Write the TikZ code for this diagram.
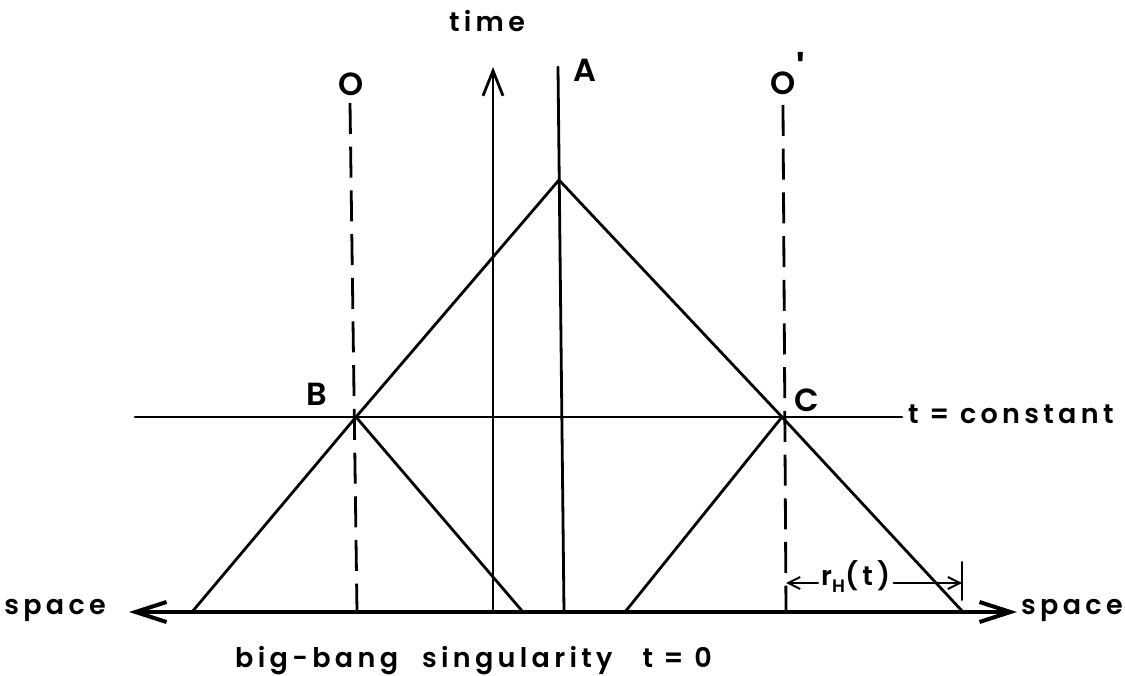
\documentclass[tikz,border=0pt]{standalone}
\usepackage{fontspec}
\setmainfont{Poppins}[LetterSpace=16, BoldFont={Poppins SemiBold}]
\usetikzlibrary{arrows.meta}
\begin{document}
\begin{tikzpicture}[x=1pt,y=-1pt,
  line cap=round,
  thinline/.style={line width=2.8pt},
  axisline/.style={line width=4pt},
  dashline/.style={line width=2.8pt, line cap=butt, dash pattern=on 31pt off 12.7pt},
  bigbarb/.style={-{Straight Barb[length=25pt,width=20pt]}},
  smallbarb/.style={-{Straight Barb[length=12pt,width=12pt]}},
  lbl/.style={inner sep=0pt, font=\fontsize{27}{30}\selectfont\bfseries},
  caplbl/.style={inner sep=0pt, font=\fontsize{32}{36}\selectfont\bfseries}]
\useasboundingbox (0,0) rectangle (1125,676);
% key points
\coordinate (axL) at (129,612);
\coordinate (axR) at (1017,612);
\coordinate (apex) at (559,180);
\coordinate (B) at (356,417);
\coordinate (C) at (782,417);
\coordinate (footL) at (192,612);
\coordinate (footR) at (963,612);
\coordinate (footB) at (523,612);
\coordinate (footC) at (625,612);
\coordinate (tBot) at (493,612);
\coordinate (tTop) at (493,67);
\coordinate (aBot) at (564,612);
\coordinate (aTop) at (558,67);
\coordinate (oTop) at (350,103);
\coordinate (oBot) at (357,612);
\coordinate (opTop) at (783,105);
\coordinate (opBot) at (786,612);
\coordinate (hL) at (135,417);
\coordinate (hR) at (902,417);
\coordinate (rl) at (786,583);
\coordinate (rr) at (962,583);
\coordinate (tickT) at (962,562);
\coordinate (tickB) at (962,600);
% axis
\draw[axisline, {Straight Barb[length=31pt,width=20pt]}-{Straight Barb[length=31pt,width=20pt]}] (axL) -- (axR);
% time arrow and world line A
\draw[thinline, bigbarb] (tBot) -- (tTop);
\draw[thinline] (aBot) -- (aTop);
% dashed observers
\draw[dashline] (oTop) -- (oBot);
\draw[dashline] (opTop) -- (opBot);
% t = constant
\draw[thinline] (hL) -- (hR);
% light cones
\draw[thinline, line join=miter] (footL) -- (B) -- (apex) -- (C) -- (footR);
\draw[thinline] (B) -- (footB);
\draw[thinline] (C) -- (footC);
% labels
\node[lbl] (time) at (487,21) {time};
\node[caplbl] (Olab) at (351,84) {O};
\node[caplbl] (Alab) at (585,70) {A};
\node[caplbl] (Oplab) at (783,83) {O};
\node[inner sep=0pt, font=\fontsize{44}{48}\selectfont\bfseries] (prime) at (801,70) {\textquotesingle};
\node[caplbl] (Blab) at (317,394) {B};
\node[caplbl] (Clab) at (807,400) {C};
\node[lbl, anchor=west] (tconst) at (908,414) {t = constant};
\node[lbl, anchor=east] (spL) at (106,610) {space};
\node[lbl, anchor=west] (spR) at (1021,610) {space};
\node[lbl, anchor=base west] (bb) at (235,667) {big-bang\hspace{24pt}singularity\hspace{30pt}t = 0};
\node[lbl, anchor=west, inner xsep=3pt] (rH) at (818,577) {r\raisebox{-7pt}{\fontsize{18}{20}\selectfont\bfseries H}(t)};
% r_H(t) annotation
\draw[line width=2pt, smallbarb] (rH.west |- rl) -- (rl);
\draw[line width=2pt, smallbarb] (rH.east |- rr) -- (rr);
\draw[line width=2pt] (tickT) -- (tickB);
\end{tikzpicture}
\end{document}
